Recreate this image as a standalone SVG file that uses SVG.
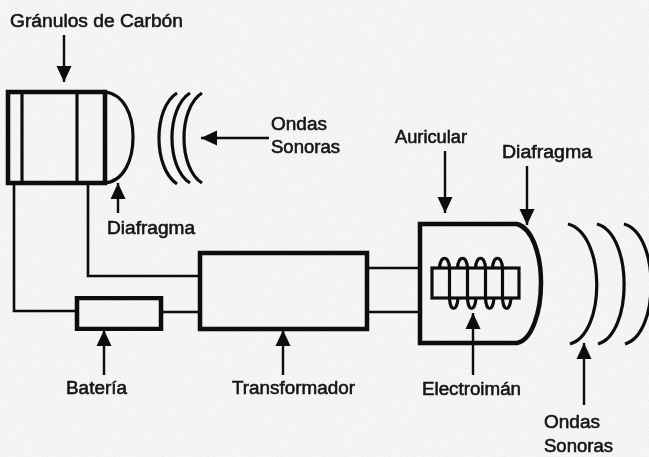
<svg xmlns="http://www.w3.org/2000/svg" width="649" height="457" viewBox="0 0 649 457">
<style>
g{filter:url(#soft)}
text{font-family:"Liberation Sans",Arial,sans-serif;font-size:18px;fill:#141414;stroke:#141414;stroke-width:.55px}
.thick{fill:none;stroke:#0c0c0c;stroke-width:4.5}
.mid{fill:none;stroke:#0c0c0c;stroke-width:3.2}
.thin{fill:none;stroke:#0c0c0c;stroke-width:2.6}
.arr{fill:none;stroke:#0c0c0c;stroke-width:2.4;marker-end:url(#head)}
</style>
<defs>
<marker id="head" markerUnits="userSpaceOnUse" markerWidth="16" markerHeight="16" refX="16" refY="8" orient="auto"><path d="M0 0.5L16 8L0 15.5Z" fill="#0c0c0c"/></marker>
<filter id="grain" x="0" y="0" width="100%" height="100%"><feTurbulence type="fractalNoise" baseFrequency=".75" numOctaves="2" seed="7"/><feColorMatrix values="0 0 0 0 .3 0 0 0 0 .3 0 0 0 0 .3 1.6 0 0 0 -0.85"/></filter>
<filter id="soft" x="-5%" y="-5%" width="110%" height="110%"><feGaussianBlur stdDeviation=".45"/></filter>
</defs>
<rect width="649" height="457" fill="#f5f5f3"/>
<rect width="649" height="457" filter="url(#grain)" opacity=".22"/>
<g id="connectors">
<path class="thin" d="M14 183V311H77"/>
<path class="thin" d="M88 183V276H200"/>
<path class="thin" d="M161 312H200"/>
<path class="thin" d="M367 268H420"/>
<path class="thin" d="M367 312H420"/>
<path class="arr" d="M64 35V82"/>
<path class="arr" d="M269 138H201"/>
<path class="arr" d="M118 213V183"/>
<path class="arr" d="M104 375V330"/>
<path class="arr" d="M283 375V330"/>
<path class="arr" d="M445 151V213"/>
<path class="arr" d="M527 166V225"/>
<path class="arr" d="M473 375V313"/>
<path class="arr" d="M584 405V343"/>
</g>
<g id="microfono">
<rect class="thick" x="8" y="92" width="97" height="91"/>
<path class="mid" d="M22 92V183M77 92V183"/>
<path class="mid" d="M105 92C124 94 133 115 133 137C133 160 124 181 105 183"/>
</g>
<g id="ondas-entrada">
<path class="mid" d="M177 93C153 108 153 168 177 184"/>
<path class="mid" d="M190 93C166 108 166 168 190 183"/>
<path class="mid" d="M202 93C178 108 178 168 202 183"/>
</g>
<g id="bateria"><rect class="thick" x="77" y="298" width="84" height="31"/></g>
<g id="transformador"><rect class="thick" x="200" y="253" width="167" height="76"/></g>
<g id="auricular">
<path class="thick" d="M517 224H420V343H517C532 340 541 312 541 283C541 254 532 228 517 224Z"/>
<rect class="mid" x="432" y="268" width="87" height="30"/>
<path class="mid" d="M439.5 268C440 255 449 255 449.5 268V298C450 312 457 312 458 298"/>
<path class="mid" d="M457.5 268C458 255 467 255 467.5 268V298C468 312 475 312 476 298"/>
<path class="mid" d="M475.5 268C476 255 485 255 485.5 268V298C486 312 493 312 494 298"/>
<path class="mid" d="M492.5 268C493 255 502 255 502.5 268V298C503 312 510 312 511 298"/>
</g>
<g id="ondas-salida">
<path class="mid" d="M568 224C606 234 606 334 570 344"/>
<path class="mid" d="M597 224C633 234 633 334 598 344"/>
<path class="mid" d="M624 224C660 234 660 334 625 344"/>
</g>
<g id="etiquetas">
<text x="10" y="27" textLength="173" lengthAdjust="spacingAndGlyphs">Gránulos de Carbón</text>
<text x="271" y="130" textLength="56" lengthAdjust="spacingAndGlyphs">Ondas</text>
<text x="271" y="153" textLength="69" lengthAdjust="spacingAndGlyphs">Sonoras</text>
<text x="107" y="234" textLength="88" lengthAdjust="spacingAndGlyphs">Diafragma</text>
<text x="395" y="143" textLength="72" lengthAdjust="spacingAndGlyphs">Auricular</text>
<text x="502" y="158" textLength="90" lengthAdjust="spacingAndGlyphs">Diafragma</text>
<text x="66" y="394" textLength="61" lengthAdjust="spacingAndGlyphs">Batería</text>
<text x="232" y="394" textLength="123" lengthAdjust="spacingAndGlyphs">Transformador</text>
<text x="422" y="395" textLength="99" lengthAdjust="spacingAndGlyphs">Electroimán</text>
<text x="544" y="428" textLength="56" lengthAdjust="spacingAndGlyphs">Ondas</text>
<text x="544" y="452" textLength="69" lengthAdjust="spacingAndGlyphs">Sonoras</text>
</g>
</svg>
